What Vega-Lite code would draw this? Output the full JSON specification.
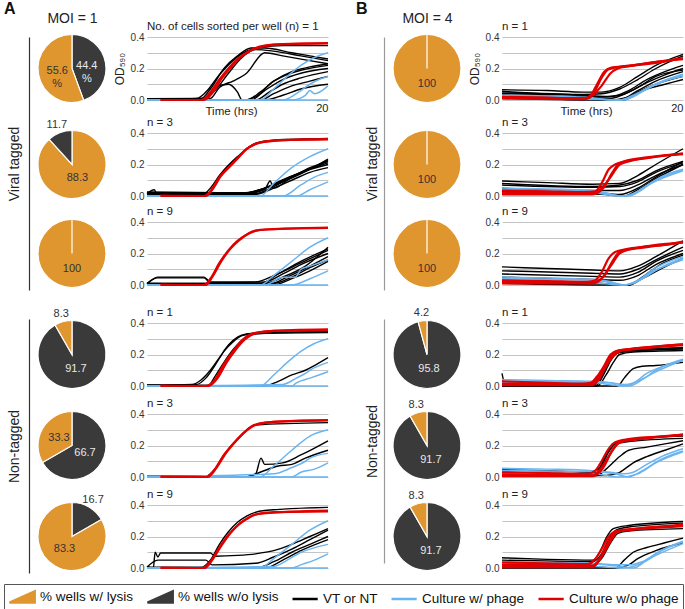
{
"$schema":"https://vega.github.io/schema/vega-lite/v6.json",
"padding":{"left":3,"top":1,"right":0,"bottom":0},
"background":"white",
"config":{"font":"Liberation Sans","view":{"stroke":null}},
"datasets":{
"pA1":[{"s":"N","v":44.4,"o":1,"lab":"44.4\n%"},{"s":"L","v":55.6,"o":2,"lab":"55.6\n%"}],
"pA2":[{"s":"L","v":88.3,"o":1,"lab":"88.3"},{"s":"N","v":11.7,"o":2,"lab":"11.7"}],
"pA3":[{"s":"L","v":100,"o":1,"lab":"100"},{"s":"N","v":0,"o":2,"lab":""}],
"pA4":[{"s":"N","v":91.7,"o":1,"lab":"91.7"},{"s":"L","v":8.3,"o":2,"lab":"8.3"}],
"pA5":[{"s":"N","v":66.7,"o":1,"lab":"66.7"},{"s":"L","v":33.3,"o":2,"lab":"33.3"}],
"pA6":[{"s":"N","v":16.7,"o":1,"lab":"16.7"},{"s":"L","v":83.3,"o":2,"lab":"83.3"}],
"pB1":[{"s":"L","v":100,"o":1,"lab":"100"},{"s":"N","v":0,"o":2,"lab":""}],
"pB2":[{"s":"L","v":100,"o":1,"lab":"100"},{"s":"N","v":0,"o":2,"lab":""}],
"pB3":[{"s":"L","v":100,"o":1,"lab":"100"},{"s":"N","v":0,"o":2,"lab":""}],
"pB4":[{"s":"N","v":95.8,"o":1,"lab":"95.8"},{"s":"L","v":4.2,"o":2,"lab":"4.2"}],
"pB5":[{"s":"N","v":91.7,"o":1,"lab":"91.7"},{"s":"L","v":8.3,"o":2,"lab":"8.3"}],
"pB6":[{"s":"N","v":91.7,"o":1,"lab":"91.7"},{"s":"L","v":8.3,"o":2,"lab":"8.3"}],
"A1":[
{"s":"R","l":1,"t":1.5,"y":0},{"s":"R","l":1,"t":6,"y":0},{"s":"R","l":1,"t":7,"y":0.05},{"s":"R","l":1,"t":8,"y":0.13},{"s":"R","l":1,"t":9,"y":0.2},{"s":"R","l":1,"t":10,"y":0.26},{"s":"R","l":1,"t":11,"y":0.3},{"s":"R","l":1,"t":12,"y":0.33},{"s":"R","l":1,"t":13,"y":0.345},{"s":"R","l":1,"t":15,"y":0.355},{"s":"R","l":1,"t":20,"y":0.36},
{"s":"R","l":2,"t":1.5,"y":0},{"s":"R","l":2,"t":6.3,"y":0},{"s":"R","l":2,"t":7.3,"y":0.05},{"s":"R","l":2,"t":8.3,"y":0.14},{"s":"R","l":2,"t":9.3,"y":0.21},{"s":"R","l":2,"t":10.3,"y":0.27},{"s":"R","l":2,"t":11.3,"y":0.31},{"s":"R","l":2,"t":12.5,"y":0.335},{"s":"R","l":2,"t":14,"y":0.35},{"s":"R","l":2,"t":20,"y":0.362},
{"s":"K","l":1,"t":0,"y":0.005},{"s":"K","l":1,"t":5.5,"y":0.01},{"s":"K","l":1,"t":6.5,"y":0.05},{"s":"K","l":1,"t":8,"y":0.16},{"s":"K","l":1,"t":9.5,"y":0.25},{"s":"K","l":1,"t":11,"y":0.31},{"s":"K","l":1,"t":12.5,"y":0.335},{"s":"K","l":1,"t":15,"y":0.345},{"s":"K","l":1,"t":20,"y":0.345},
{"s":"K","l":2,"t":0,"y":0.003},{"s":"K","l":2,"t":6,"y":0.01},{"s":"K","l":2,"t":7,"y":0.07},{"s":"K","l":2,"t":8.5,"y":0.2},{"s":"K","l":2,"t":10,"y":0.28},{"s":"K","l":2,"t":11.5,"y":0.33},{"s":"K","l":2,"t":13,"y":0.33},{"s":"K","l":2,"t":16,"y":0.3},{"s":"K","l":2,"t":20,"y":0.26},
{"s":"K","l":3,"t":0,"y":0.008},{"s":"K","l":3,"t":6,"y":0.01},{"s":"K","l":3,"t":7.5,"y":0.06},{"s":"K","l":3,"t":9,"y":0.17},{"s":"K","l":3,"t":10.5,"y":0.27},{"s":"K","l":3,"t":12,"y":0.32},{"s":"K","l":3,"t":14,"y":0.31},{"s":"K","l":3,"t":17,"y":0.28},{"s":"K","l":3,"t":20,"y":0.25},
{"s":"K","l":4,"t":0,"y":0.005},{"s":"K","l":4,"t":7,"y":0.01},{"s":"K","l":4,"t":8,"y":0.08},{"s":"K","l":4,"t":9.5,"y":0.12},{"s":"K","l":4,"t":11,"y":0.17},{"s":"K","l":4,"t":13,"y":0.3},{"s":"K","l":4,"t":15,"y":0.28},{"s":"K","l":4,"t":20,"y":0.23},
{"s":"K","l":5,"t":0,"y":0.004},{"s":"K","l":5,"t":6.5,"y":0},{"s":"K","l":5,"t":7.5,"y":0.08},{"s":"K","l":5,"t":9,"y":0.1},{"s":"K","l":5,"t":10,"y":0.05},{"s":"K","l":5,"t":10.5,"y":0},{"s":"K","l":5,"t":12,"y":0.02},{"s":"K","l":5,"t":14,"y":0.12},{"s":"K","l":5,"t":20,"y":0.22},
{"s":"K","l":6,"t":0,"y":0.006},{"s":"K","l":6,"t":11,"y":0},{"s":"K","l":6,"t":12.5,"y":0.05},{"s":"K","l":6,"t":14,"y":0.12},{"s":"K","l":6,"t":16,"y":0.18},{"s":"K","l":6,"t":18,"y":0.21},{"s":"K","l":6,"t":20,"y":0.23},
{"s":"K","l":7,"t":0,"y":0.002},{"s":"K","l":7,"t":11.5,"y":0},{"s":"K","l":7,"t":13,"y":0.06},{"s":"K","l":7,"t":15,"y":0.13},{"s":"K","l":7,"t":17,"y":0.17},{"s":"K","l":7,"t":20,"y":0.2},
{"s":"K","l":8,"t":0,"y":0.004},{"s":"K","l":8,"t":12,"y":0},{"s":"K","l":8,"t":13.5,"y":0.05},{"s":"K","l":8,"t":15,"y":0.1},{"s":"K","l":8,"t":17,"y":0.14},{"s":"K","l":8,"t":20,"y":0.18},
{"s":"K","l":9,"t":0,"y":0.003},{"s":"K","l":9,"t":12.5,"y":0},{"s":"K","l":9,"t":14,"y":0.04},{"s":"K","l":9,"t":16,"y":0.09},{"s":"K","l":9,"t":18,"y":0.12},{"s":"K","l":9,"t":20,"y":0.15},
{"s":"K","l":10,"t":0,"y":0.002},{"s":"K","l":10,"t":13,"y":0},{"s":"K","l":10,"t":15,"y":0.03},{"s":"K","l":10,"t":17,"y":0.07},{"s":"K","l":10,"t":20,"y":0.1},
{"s":"B","l":1,"t":0,"y":0},{"s":"B","l":1,"t":12.5,"y":0},{"s":"B","l":1,"t":14,"y":0.07},{"s":"B","l":1,"t":15.5,"y":0.15},{"s":"B","l":1,"t":17,"y":0.22},{"s":"B","l":1,"t":18.5,"y":0.27},{"s":"B","l":1,"t":20,"y":0.3},
{"s":"B","l":2,"t":0,"y":0},{"s":"B","l":2,"t":15,"y":0},{"s":"B","l":2,"t":16.5,"y":0.04},{"s":"B","l":2,"t":18,"y":0.1},{"s":"B","l":2,"t":19,"y":0.13},{"s":"B","l":2,"t":20,"y":0.15},
{"s":"B","l":3,"t":0,"y":0},{"s":"B","l":3,"t":16,"y":0},{"s":"B","l":3,"t":17.5,"y":0.03},{"s":"B","l":3,"t":18,"y":0.06},{"s":"B","l":3,"t":18.5,"y":0.04},{"s":"B","l":3,"t":20,"y":0.09},
{"s":"B","l":4,"t":0,"y":0},{"s":"B","l":4,"t":20,"y":0}],
"A2":[
{"s":"R","l":1,"t":1.5,"y":0},{"s":"R","l":1,"t":6.3,"y":0},{"s":"R","l":1,"t":7,"y":0.03},{"s":"R","l":1,"t":8,"y":0.12},{"s":"R","l":1,"t":9,"y":0.18},{"s":"R","l":1,"t":10,"y":0.24},{"s":"R","l":1,"t":11,"y":0.3},{"s":"R","l":1,"t":12,"y":0.33},{"s":"R","l":1,"t":13,"y":0.345},{"s":"R","l":1,"t":15,"y":0.355},{"s":"R","l":1,"t":20,"y":0.36},
{"s":"R","l":2,"t":1.5,"y":0.002},{"s":"R","l":2,"t":6.5,"y":0},{"s":"R","l":2,"t":7.2,"y":0.04},{"s":"R","l":2,"t":8.2,"y":0.13},{"s":"R","l":2,"t":9.2,"y":0.19},{"s":"R","l":2,"t":10.2,"y":0.25},{"s":"R","l":2,"t":11.2,"y":0.305},{"s":"R","l":2,"t":12.2,"y":0.335},{"s":"R","l":2,"t":14,"y":0.35},{"s":"R","l":2,"t":20,"y":0.362},
{"s":"K","l":1,"t":0,"y":0.01},{"s":"K","l":1,"t":6.2,"y":0.01},{"s":"K","l":1,"t":7,"y":0.05},{"s":"K","l":1,"t":8,"y":0.13},{"s":"K","l":1,"t":10,"y":0.25},{"s":"K","l":1,"t":12,"y":0.335},{"s":"K","l":1,"t":14,"y":0.355},{"s":"K","l":1,"t":20,"y":0.365},
{"s":"K","l":2,"t":0,"y":0.02},{"s":"K","l":2,"t":11,"y":0.02},{"s":"K","l":2,"t":13,"y":0.05},{"s":"K","l":2,"t":15,"y":0.1},{"s":"K","l":2,"t":17,"y":0.15},{"s":"K","l":2,"t":20,"y":0.22},
{"s":"K","l":3,"t":0,"y":0.015},{"s":"K","l":3,"t":0.8,"y":0.04},{"s":"K","l":3,"t":1.1,"y":0.015},{"s":"K","l":3,"t":11.5,"y":0.02},{"s":"K","l":3,"t":13,"y":0.04},{"s":"K","l":3,"t":13.6,"y":0.095},{"s":"K","l":3,"t":14,"y":0.05},{"s":"K","l":3,"t":16,"y":0.12},{"s":"K","l":3,"t":18,"y":0.17},{"s":"K","l":3,"t":20,"y":0.23},
{"s":"K","l":4,"t":0,"y":0.02},{"s":"K","l":4,"t":11.5,"y":0.02},{"s":"K","l":4,"t":13.5,"y":0.06},{"s":"K","l":4,"t":15.5,"y":0.11},{"s":"K","l":4,"t":17.5,"y":0.16},{"s":"K","l":4,"t":20,"y":0.21},
{"s":"K","l":5,"t":0,"y":0.025},{"s":"K","l":5,"t":10.5,"y":0.02},{"s":"K","l":5,"t":12.5,"y":0.04},{"s":"K","l":5,"t":14.5,"y":0.09},{"s":"K","l":5,"t":17,"y":0.15},{"s":"K","l":5,"t":20,"y":0.2},
{"s":"K","l":6,"t":0,"y":0.01},{"s":"K","l":6,"t":12,"y":0.01},{"s":"K","l":6,"t":14,"y":0.05},{"s":"K","l":6,"t":16,"y":0.1},{"s":"K","l":6,"t":18,"y":0.15},{"s":"K","l":6,"t":20,"y":0.18},
{"s":"K","l":7,"t":0,"y":0.018},{"s":"K","l":7,"t":11,"y":0.02},{"s":"K","l":7,"t":13,"y":0.05},{"s":"K","l":7,"t":15,"y":0.09},{"s":"K","l":7,"t":17,"y":0.14},{"s":"K","l":7,"t":20,"y":0.235},
{"s":"K","l":8,"t":0,"y":0.012},{"s":"K","l":8,"t":12,"y":0.015},{"s":"K","l":8,"t":14,"y":0.06},{"s":"K","l":8,"t":16,"y":0.12},{"s":"K","l":8,"t":18,"y":0.18},{"s":"K","l":8,"t":20,"y":0.22},
{"s":"B","l":1,"t":0,"y":0},{"s":"B","l":1,"t":12.5,"y":0},{"s":"B","l":1,"t":14,"y":0.08},{"s":"B","l":1,"t":16,"y":0.18},{"s":"B","l":1,"t":18,"y":0.25},{"s":"B","l":1,"t":20,"y":0.3},
{"s":"B","l":2,"t":0,"y":0},{"s":"B","l":2,"t":15,"y":0},{"s":"B","l":2,"t":17,"y":0.07},{"s":"B","l":2,"t":18.5,"y":0.12},{"s":"B","l":2,"t":20,"y":0.15},
{"s":"B","l":3,"t":0,"y":0},{"s":"B","l":3,"t":16.5,"y":0},{"s":"B","l":3,"t":18,"y":0.04},{"s":"B","l":3,"t":20,"y":0.09},
{"s":"B","l":4,"t":0,"y":0},{"s":"B","l":4,"t":20,"y":0}],
"A3":[
{"s":"R","l":1,"t":1.5,"y":0},{"s":"R","l":1,"t":6.3,"y":0},{"s":"R","l":1,"t":7,"y":0.04},{"s":"R","l":1,"t":8,"y":0.14},{"s":"R","l":1,"t":9,"y":0.22},{"s":"R","l":1,"t":10,"y":0.28},{"s":"R","l":1,"t":11,"y":0.32},{"s":"R","l":1,"t":12,"y":0.345},{"s":"R","l":1,"t":14,"y":0.355},{"s":"R","l":1,"t":20,"y":0.365},
{"s":"R","l":2,"t":1.5,"y":0.002},{"s":"R","l":2,"t":6.5,"y":0},{"s":"R","l":2,"t":7.2,"y":0.05},{"s":"R","l":2,"t":8.2,"y":0.15},{"s":"R","l":2,"t":9.2,"y":0.23},{"s":"R","l":2,"t":10.2,"y":0.285},{"s":"R","l":2,"t":11.2,"y":0.325},{"s":"R","l":2,"t":12.5,"y":0.35},{"s":"R","l":2,"t":20,"y":0.362},
{"s":"K","l":1,"t":0,"y":0.01},{"s":"K","l":1,"t":0.8,"y":0.04},{"s":"K","l":1,"t":1.2,"y":0.05},{"s":"K","l":1,"t":6.3,"y":0.05},{"s":"K","l":1,"t":7,"y":0.02},{"s":"K","l":1,"t":12,"y":0.02},{"s":"K","l":1,"t":14,"y":0.06},{"s":"K","l":1,"t":17,"y":0.14},{"s":"K","l":1,"t":20,"y":0.22},
{"s":"K","l":2,"t":0,"y":0.005},{"s":"K","l":2,"t":1,"y":0.045},{"s":"K","l":2,"t":6.3,"y":0.045},{"s":"K","l":2,"t":7,"y":0.015},{"s":"K","l":2,"t":13,"y":0.02},{"s":"K","l":2,"t":15,"y":0.07},{"s":"K","l":2,"t":17,"y":0.13},{"s":"K","l":2,"t":20,"y":0.2},
{"s":"K","l":3,"t":0,"y":0.01},{"s":"K","l":3,"t":13,"y":0.01},{"s":"K","l":3,"t":15,"y":0.05},{"s":"K","l":3,"t":17.5,"y":0.12},{"s":"K","l":3,"t":20,"y":0.24},
{"s":"K","l":4,"t":0,"y":0.005},{"s":"K","l":4,"t":13.5,"y":0.005},{"s":"K","l":4,"t":15.5,"y":0.05},{"s":"K","l":4,"t":18,"y":0.12},{"s":"K","l":4,"t":20,"y":0.18},
{"s":"K","l":5,"t":0,"y":0.01},{"s":"K","l":5,"t":14,"y":0.01},{"s":"K","l":5,"t":16,"y":0.05},{"s":"K","l":5,"t":18,"y":0.11},{"s":"K","l":5,"t":20,"y":0.16},
{"s":"K","l":6,"t":0,"y":0.005},{"s":"K","l":6,"t":12.5,"y":0.01},{"s":"K","l":6,"t":14.5,"y":0.07},{"s":"K","l":6,"t":17,"y":0.15},{"s":"K","l":6,"t":20,"y":0.23},
{"s":"K","l":7,"t":0,"y":0.01},{"s":"K","l":7,"t":14,"y":0},{"s":"K","l":7,"t":16,"y":0.04},{"s":"K","l":7,"t":18,"y":0.09},{"s":"K","l":7,"t":20,"y":0.15},
{"s":"B","l":1,"t":0,"y":0},{"s":"B","l":1,"t":12.5,"y":0},{"s":"B","l":1,"t":14,"y":0.06},{"s":"B","l":1,"t":16,"y":0.15},{"s":"B","l":1,"t":18,"y":0.24},{"s":"B","l":1,"t":20,"y":0.3},
{"s":"B","l":2,"t":0,"y":0},{"s":"B","l":2,"t":13,"y":0},{"s":"B","l":2,"t":15,"y":0.05},{"s":"B","l":2,"t":16.4,"y":0.05},{"s":"B","l":2,"t":17,"y":0.1},{"s":"B","l":2,"t":18,"y":0.12},{"s":"B","l":2,"t":20,"y":0.16},
{"s":"B","l":3,"t":0,"y":0},{"s":"B","l":3,"t":16,"y":0},{"s":"B","l":3,"t":18,"y":0.04},{"s":"B","l":3,"t":20,"y":0.09},
{"s":"B","l":4,"t":0,"y":0},{"s":"B","l":4,"t":20,"y":0}],
"A4":[
{"s":"R","l":1,"t":1.5,"y":0},{"s":"R","l":1,"t":6.5,"y":0},{"s":"R","l":1,"t":7.5,"y":0.04},{"s":"R","l":1,"t":8.5,"y":0.14},{"s":"R","l":1,"t":9.5,"y":0.22},{"s":"R","l":1,"t":10.5,"y":0.29},{"s":"R","l":1,"t":11.5,"y":0.33},{"s":"R","l":1,"t":13,"y":0.345},{"s":"R","l":1,"t":16,"y":0.355},{"s":"R","l":1,"t":20,"y":0.36},
{"s":"R","l":2,"t":1.5,"y":0.002},{"s":"R","l":2,"t":6.8,"y":0},{"s":"R","l":2,"t":7.8,"y":0.05},{"s":"R","l":2,"t":8.8,"y":0.15},{"s":"R","l":2,"t":9.8,"y":0.23},{"s":"R","l":2,"t":10.8,"y":0.295},{"s":"R","l":2,"t":12,"y":0.335},{"s":"R","l":2,"t":14,"y":0.35},{"s":"R","l":2,"t":20,"y":0.355},
{"s":"K","l":1,"t":0,"y":0.005},{"s":"K","l":1,"t":5,"y":0.01},{"s":"K","l":1,"t":6,"y":0.04},{"s":"K","l":1,"t":7,"y":0.1},{"s":"K","l":1,"t":8,"y":0.18},{"s":"K","l":1,"t":9,"y":0.26},{"s":"K","l":1,"t":10,"y":0.31},{"s":"K","l":1,"t":11,"y":0.33},{"s":"K","l":1,"t":13,"y":0.34},{"s":"K","l":1,"t":20,"y":0.345},
{"s":"K","l":2,"t":0,"y":0.005},{"s":"K","l":2,"t":5.5,"y":0.01},{"s":"K","l":2,"t":6.5,"y":0.05},{"s":"K","l":2,"t":7.5,"y":0.13},{"s":"K","l":2,"t":8.5,"y":0.22},{"s":"K","l":2,"t":9.5,"y":0.28},{"s":"K","l":2,"t":10.5,"y":0.32},{"s":"K","l":2,"t":12,"y":0.335},{"s":"K","l":2,"t":20,"y":0.34},
{"s":"K","l":3,"t":0,"y":0.005},{"s":"K","l":3,"t":6.8,"y":0.005},{"s":"K","l":3,"t":7.5,"y":0.06},{"s":"K","l":3,"t":8.5,"y":0.15},{"s":"K","l":3,"t":9.5,"y":0.23},{"s":"K","l":3,"t":10.5,"y":0.29},{"s":"K","l":3,"t":12,"y":0.33},{"s":"K","l":3,"t":20,"y":0.345},
{"s":"K","l":4,"t":0,"y":0.003},{"s":"K","l":4,"t":13,"y":0},{"s":"K","l":4,"t":14.5,"y":0.03},{"s":"K","l":4,"t":16,"y":0.07},{"s":"K","l":4,"t":17.5,"y":0.1},{"s":"K","l":4,"t":18.5,"y":0.13},{"s":"K","l":4,"t":20,"y":0.18},
{"s":"B","l":1,"t":0,"y":0},{"s":"B","l":1,"t":12.5,"y":0},{"s":"B","l":1,"t":14,"y":0.07},{"s":"B","l":1,"t":15.5,"y":0.15},{"s":"B","l":1,"t":17,"y":0.22},{"s":"B","l":1,"t":18.5,"y":0.27},{"s":"B","l":1,"t":20,"y":0.3},
{"s":"B","l":2,"t":0,"y":0},{"s":"B","l":2,"t":15,"y":0.01},{"s":"B","l":2,"t":16.5,"y":0.05},{"s":"B","l":2,"t":17.5,"y":0.08},{"s":"B","l":2,"t":18,"y":0.1},{"s":"B","l":2,"t":20,"y":0.15},
{"s":"B","l":3,"t":0,"y":0},{"s":"B","l":3,"t":16,"y":0},{"s":"B","l":3,"t":16.5,"y":0.02},{"s":"B","l":3,"t":18,"y":0.05},{"s":"B","l":3,"t":20,"y":0.09},
{"s":"B","l":4,"t":0,"y":0},{"s":"B","l":4,"t":20,"y":0}],
"A5":[
{"s":"R","l":1,"t":1.5,"y":0},{"s":"R","l":1,"t":6.5,"y":0},{"s":"R","l":1,"t":7.5,"y":0.05},{"s":"R","l":1,"t":8.5,"y":0.14},{"s":"R","l":1,"t":9.5,"y":0.21},{"s":"R","l":1,"t":10.5,"y":0.27},{"s":"R","l":1,"t":11.5,"y":0.32},{"s":"R","l":1,"t":13,"y":0.345},{"s":"R","l":1,"t":16,"y":0.355},{"s":"R","l":1,"t":20,"y":0.36},
{"s":"R","l":2,"t":1.5,"y":0.002},{"s":"R","l":2,"t":6.7,"y":0},{"s":"R","l":2,"t":7.7,"y":0.06},{"s":"R","l":2,"t":8.7,"y":0.15},{"s":"R","l":2,"t":9.7,"y":0.22},{"s":"R","l":2,"t":10.7,"y":0.28},{"s":"R","l":2,"t":12,"y":0.33},{"s":"R","l":2,"t":14,"y":0.35},{"s":"R","l":2,"t":20,"y":0.362},
{"s":"K","l":1,"t":0,"y":0.005},{"s":"K","l":1,"t":6.5,"y":0.005},{"s":"K","l":1,"t":7.5,"y":0.05},{"s":"K","l":1,"t":8.5,"y":0.14},{"s":"K","l":1,"t":9.5,"y":0.21},{"s":"K","l":1,"t":10.5,"y":0.27},{"s":"K","l":1,"t":12,"y":0.33},{"s":"K","l":1,"t":20,"y":0.345},
{"s":"K","l":2,"t":0,"y":0},{"s":"K","l":2,"t":10.5,"y":0},{"s":"K","l":2,"t":12,"y":0.02},{"s":"K","l":2,"t":12.6,"y":0.12},{"s":"K","l":2,"t":13,"y":0.08},{"s":"K","l":2,"t":15,"y":0.09},{"s":"K","l":2,"t":17,"y":0.14},{"s":"K","l":2,"t":20,"y":0.23},
{"s":"K","l":3,"t":0,"y":0},{"s":"K","l":3,"t":11,"y":0},{"s":"K","l":3,"t":12.5,"y":0.03},{"s":"K","l":3,"t":14.5,"y":0.07},{"s":"K","l":3,"t":16,"y":0.08},{"s":"K","l":3,"t":17.5,"y":0.12},{"s":"K","l":3,"t":20,"y":0.17},
{"s":"B","l":1,"t":0,"y":0},{"s":"B","l":1,"t":12.5,"y":0},{"s":"B","l":1,"t":14,"y":0.07},{"s":"B","l":1,"t":16,"y":0.17},{"s":"B","l":1,"t":18,"y":0.26},{"s":"B","l":1,"t":20,"y":0.3},
{"s":"B","l":2,"t":0,"y":0},{"s":"B","l":2,"t":14,"y":0.02},{"s":"B","l":2,"t":16,"y":0.06},{"s":"B","l":2,"t":17.5,"y":0.1},{"s":"B","l":2,"t":18,"y":0.12},{"s":"B","l":2,"t":20,"y":0.15},
{"s":"B","l":3,"t":0,"y":0},{"s":"B","l":3,"t":16,"y":0},{"s":"B","l":3,"t":17,"y":0.03},{"s":"B","l":3,"t":18.5,"y":0.05},{"s":"B","l":3,"t":20,"y":0.09},
{"s":"B","l":4,"t":0,"y":0},{"s":"B","l":4,"t":20,"y":0}],
"A6":[
{"s":"R","l":1,"t":1.5,"y":0},{"s":"R","l":1,"t":6.2,"y":0},{"s":"R","l":1,"t":7,"y":0.04},{"s":"R","l":1,"t":8,"y":0.13},{"s":"R","l":1,"t":9,"y":0.21},{"s":"R","l":1,"t":10,"y":0.27},{"s":"R","l":1,"t":11,"y":0.31},{"s":"R","l":1,"t":12,"y":0.34},{"s":"R","l":1,"t":14,"y":0.355},{"s":"R","l":1,"t":20,"y":0.36},
{"s":"R","l":2,"t":1.5,"y":0.002},{"s":"R","l":2,"t":6.4,"y":0},{"s":"R","l":2,"t":7.2,"y":0.05},{"s":"R","l":2,"t":8.2,"y":0.14},{"s":"R","l":2,"t":9.2,"y":0.22},{"s":"R","l":2,"t":10.2,"y":0.28},{"s":"R","l":2,"t":11.2,"y":0.32},{"s":"R","l":2,"t":12.5,"y":0.345},{"s":"R","l":2,"t":20,"y":0.365},
{"s":"K","l":1,"t":0,"y":0.005},{"s":"K","l":1,"t":6,"y":0.005},{"s":"K","l":1,"t":7,"y":0.05},{"s":"K","l":1,"t":8,"y":0.15},{"s":"K","l":1,"t":9,"y":0.23},{"s":"K","l":1,"t":10,"y":0.29},{"s":"K","l":1,"t":11,"y":0.33},{"s":"K","l":1,"t":13,"y":0.365},{"s":"K","l":1,"t":20,"y":0.385},
{"s":"K","l":2,"t":0,"y":0.01},{"s":"K","l":2,"t":0.7,"y":0},{"s":"K","l":2,"t":0.9,"y":0.1},{"s":"K","l":2,"t":1.2,"y":0.07},{"s":"K","l":2,"t":1.5,"y":0.095},{"s":"K","l":2,"t":7,"y":0.095},{"s":"K","l":2,"t":7.5,"y":0.075},{"s":"K","l":2,"t":10,"y":0.08},{"s":"K","l":2,"t":12,"y":0.09},{"s":"K","l":2,"t":14,"y":0.11},{"s":"K","l":2,"t":16,"y":0.15},{"s":"K","l":2,"t":18,"y":0.2},{"s":"K","l":2,"t":20,"y":0.25},
{"s":"K","l":3,"t":0,"y":0.005},{"s":"K","l":3,"t":1.2,"y":0.05},{"s":"K","l":3,"t":6.5,"y":0.05},{"s":"K","l":3,"t":7.2,"y":0.02},{"s":"K","l":3,"t":12,"y":0.03},{"s":"K","l":3,"t":14,"y":0.07},{"s":"K","l":3,"t":16,"y":0.12},{"s":"K","l":3,"t":18,"y":0.18},{"s":"K","l":3,"t":20,"y":0.24},
{"s":"K","l":4,"t":0,"y":0},{"s":"K","l":4,"t":12,"y":0},{"s":"K","l":4,"t":14,"y":0.04},{"s":"K","l":4,"t":16,"y":0.1},{"s":"K","l":4,"t":18,"y":0.15},{"s":"K","l":4,"t":20,"y":0.2},
{"s":"K","l":5,"t":0,"y":0},{"s":"K","l":5,"t":13,"y":0},{"s":"K","l":5,"t":15,"y":0.05},{"s":"K","l":5,"t":17,"y":0.11},{"s":"K","l":5,"t":20,"y":0.18},
{"s":"B","l":1,"t":0,"y":0},{"s":"B","l":1,"t":12.5,"y":0},{"s":"B","l":1,"t":14,"y":0.06},{"s":"B","l":1,"t":16,"y":0.15},{"s":"B","l":1,"t":18,"y":0.24},{"s":"B","l":1,"t":20,"y":0.3},
{"s":"B","l":2,"t":0,"y":0},{"s":"B","l":2,"t":14,"y":0.01},{"s":"B","l":2,"t":15.5,"y":0.05},{"s":"B","l":2,"t":17,"y":0.1},{"s":"B","l":2,"t":18,"y":0.12},{"s":"B","l":2,"t":20,"y":0.15},
{"s":"B","l":3,"t":0,"y":0},{"s":"B","l":3,"t":16,"y":0},{"s":"B","l":3,"t":17,"y":0.02},{"s":"B","l":3,"t":18.5,"y":0.05},{"s":"B","l":3,"t":20,"y":0.09},
{"s":"B","l":4,"t":0,"y":0},{"s":"B","l":4,"t":20,"y":0}],
"B1":[
{"s":"R","l":1,"t":0,"y":0.02},{"s":"R","l":1,"t":5,"y":0.015},{"s":"R","l":1,"t":9,"y":0.01},{"s":"R","l":1,"t":9.8,"y":0.03},{"s":"R","l":1,"t":10.5,"y":0.1},{"s":"R","l":1,"t":11.3,"y":0.18},{"s":"R","l":1,"t":12,"y":0.205},{"s":"R","l":1,"t":14,"y":0.215},{"s":"R","l":1,"t":17,"y":0.235},{"s":"R","l":1,"t":20,"y":0.265},
{"s":"R","l":2,"t":0,"y":0.01},{"s":"R","l":2,"t":9,"y":0.005},{"s":"R","l":2,"t":10,"y":0.03},{"s":"R","l":2,"t":11,"y":0.09},{"s":"R","l":2,"t":12,"y":0.17},{"s":"R","l":2,"t":12.8,"y":0.2},{"s":"R","l":2,"t":14,"y":0.215},{"s":"R","l":2,"t":20,"y":0.26},
{"s":"R","l":3,"t":0,"y":0.015},{"s":"R","l":3,"t":9.5,"y":0.01},{"s":"R","l":3,"t":10.3,"y":0.06},{"s":"R","l":3,"t":11,"y":0.14},{"s":"R","l":3,"t":11.8,"y":0.195},{"s":"R","l":3,"t":15,"y":0.225},{"s":"R","l":3,"t":20,"y":0.265},
{"s":"K","l":1,"t":0,"y":0.065},{"s":"K","l":1,"t":5,"y":0.06},{"s":"K","l":1,"t":9,"y":0.05},{"s":"K","l":1,"t":11,"y":0.05},{"s":"K","l":1,"t":13,"y":0.08},{"s":"K","l":1,"t":15,"y":0.15},{"s":"K","l":1,"t":17,"y":0.22},{"s":"K","l":1,"t":20,"y":0.29},
{"s":"K","l":2,"t":0,"y":0.055},{"s":"K","l":2,"t":9,"y":0.035},{"s":"K","l":2,"t":11,"y":0.04},{"s":"K","l":2,"t":13,"y":0.07},{"s":"K","l":2,"t":15,"y":0.13},{"s":"K","l":2,"t":17,"y":0.2},{"s":"K","l":2,"t":20,"y":0.28},
{"s":"K","l":3,"t":0,"y":0.04},{"s":"K","l":3,"t":9,"y":0.03},{"s":"K","l":3,"t":12,"y":0.02},{"s":"K","l":3,"t":14,"y":0.06},{"s":"K","l":3,"t":16,"y":0.13},{"s":"K","l":3,"t":18,"y":0.18},{"s":"K","l":3,"t":20,"y":0.22},
{"s":"K","l":4,"t":0,"y":0.03},{"s":"K","l":4,"t":9,"y":0.02},{"s":"K","l":4,"t":12,"y":0.01},{"s":"K","l":4,"t":14,"y":0.05},{"s":"K","l":4,"t":16,"y":0.11},{"s":"K","l":4,"t":18,"y":0.16},{"s":"K","l":4,"t":20,"y":0.2},
{"s":"K","l":5,"t":0,"y":0.02},{"s":"K","l":5,"t":10,"y":0.01},{"s":"K","l":5,"t":13,"y":0},{"s":"K","l":5,"t":15,"y":0.06},{"s":"K","l":5,"t":17,"y":0.12},{"s":"K","l":5,"t":20,"y":0.18},
{"s":"K","l":6,"t":0,"y":0.01},{"s":"K","l":6,"t":11,"y":0},{"s":"K","l":6,"t":13.5,"y":0},{"s":"K","l":6,"t":15,"y":0.05},{"s":"K","l":6,"t":17,"y":0.1},{"s":"K","l":6,"t":20,"y":0.15},
{"s":"K","l":7,"t":0,"y":0.045},{"s":"K","l":7,"t":9,"y":0.03},{"s":"K","l":7,"t":10.5,"y":0.02},{"s":"K","l":7,"t":13,"y":0.03},{"s":"K","l":7,"t":15,"y":0.08},{"s":"K","l":7,"t":17,"y":0.15},{"s":"K","l":7,"t":20,"y":0.19},
{"s":"K","l":8,"t":0,"y":0.015},{"s":"K","l":8,"t":12,"y":0},{"s":"K","l":8,"t":14,"y":0.02},{"s":"K","l":8,"t":16,"y":0.07},{"s":"K","l":8,"t":18,"y":0.1},{"s":"K","l":8,"t":20,"y":0.13},
{"s":"B","l":1,"t":0,"y":0.03},{"s":"B","l":1,"t":8,"y":0.02},{"s":"B","l":1,"t":10,"y":0.015},{"s":"B","l":1,"t":12,"y":0},{"s":"B","l":1,"t":13.5,"y":0},{"s":"B","l":1,"t":15,"y":0.04},{"s":"B","l":1,"t":17,"y":0.1},{"s":"B","l":1,"t":20,"y":0.16},
{"s":"B","l":2,"t":0,"y":0.02},{"s":"B","l":2,"t":10,"y":0.01},{"s":"B","l":2,"t":13,"y":0},{"s":"B","l":2,"t":14.5,"y":0.02},{"s":"B","l":2,"t":16,"y":0.07},{"s":"B","l":2,"t":18,"y":0.12},{"s":"B","l":2,"t":20,"y":0.15},
{"s":"B","l":3,"t":0,"y":0.01},{"s":"B","l":3,"t":9,"y":0.005},{"s":"B","l":3,"t":13,"y":0},{"s":"B","l":3,"t":14.5,"y":0.03},{"s":"B","l":3,"t":16.5,"y":0.09},{"s":"B","l":3,"t":20,"y":0.165}],
"B2":[
{"s":"R","l":1,"t":0,"y":0.035},{"s":"R","l":1,"t":5,"y":0.03},{"s":"R","l":1,"t":9,"y":0.025},{"s":"R","l":1,"t":10.3,"y":0.03},{"s":"R","l":1,"t":11,"y":0.08},{"s":"R","l":1,"t":11.8,"y":0.17},{"s":"R","l":1,"t":12.5,"y":0.2},{"s":"R","l":1,"t":13.5,"y":0.22},{"s":"R","l":1,"t":16,"y":0.245},{"s":"R","l":1,"t":20,"y":0.27},
{"s":"R","l":2,"t":0,"y":0.02},{"s":"R","l":2,"t":10,"y":0.02},{"s":"R","l":2,"t":11,"y":0.05},{"s":"R","l":2,"t":12,"y":0.12},{"s":"R","l":2,"t":13,"y":0.2},{"s":"R","l":2,"t":14,"y":0.22},{"s":"R","l":2,"t":20,"y":0.265},
{"s":"R","l":3,"t":0,"y":0.01},{"s":"R","l":3,"t":10,"y":0.01},{"s":"R","l":3,"t":11.2,"y":0.05},{"s":"R","l":3,"t":12.2,"y":0.15},{"s":"R","l":3,"t":13,"y":0.21},{"s":"R","l":3,"t":16,"y":0.24},{"s":"R","l":3,"t":20,"y":0.27},
{"s":"K","l":1,"t":0,"y":0.095},{"s":"K","l":1,"t":5,"y":0.085},{"s":"K","l":1,"t":10,"y":0.075},{"s":"K","l":1,"t":13,"y":0.08},{"s":"K","l":1,"t":15,"y":0.13},{"s":"K","l":1,"t":17,"y":0.2},{"s":"K","l":1,"t":20,"y":0.3},
{"s":"K","l":2,"t":0,"y":0.08},{"s":"K","l":2,"t":10,"y":0.06},{"s":"K","l":2,"t":13,"y":0.07},{"s":"K","l":2,"t":15,"y":0.1},{"s":"K","l":2,"t":17,"y":0.16},{"s":"K","l":2,"t":20,"y":0.22},
{"s":"K","l":3,"t":0,"y":0.07},{"s":"K","l":3,"t":10,"y":0.055},{"s":"K","l":3,"t":13,"y":0.06},{"s":"K","l":3,"t":15,"y":0.09},{"s":"K","l":3,"t":17,"y":0.15},{"s":"K","l":3,"t":20,"y":0.21},
{"s":"K","l":4,"t":0,"y":0.05},{"s":"K","l":4,"t":10,"y":0.035},{"s":"K","l":4,"t":13,"y":0.035},{"s":"K","l":4,"t":15,"y":0.07},{"s":"K","l":4,"t":17,"y":0.13},{"s":"K","l":4,"t":20,"y":0.2},
{"s":"K","l":5,"t":0,"y":0.03},{"s":"K","l":5,"t":10,"y":0.02},{"s":"K","l":5,"t":13,"y":0.01},{"s":"K","l":5,"t":15,"y":0.05},{"s":"K","l":5,"t":17,"y":0.12},{"s":"K","l":5,"t":20,"y":0.22},
{"s":"K","l":6,"t":0,"y":0.02},{"s":"K","l":6,"t":11,"y":0.01},{"s":"K","l":6,"t":13.5,"y":0},{"s":"K","l":6,"t":15,"y":0.04},{"s":"K","l":6,"t":17,"y":0.11},{"s":"K","l":6,"t":20,"y":0.2},
{"s":"B","l":1,"t":0,"y":0.05},{"s":"B","l":1,"t":8,"y":0.04},{"s":"B","l":1,"t":10,"y":0.035},{"s":"B","l":1,"t":11.5,"y":0.02},{"s":"B","l":1,"t":13,"y":0},{"s":"B","l":1,"t":14,"y":0},{"s":"B","l":1,"t":15.5,"y":0.05},{"s":"B","l":1,"t":17.5,"y":0.12},{"s":"B","l":1,"t":20,"y":0.17},
{"s":"B","l":2,"t":0,"y":0.04},{"s":"B","l":2,"t":10,"y":0.03},{"s":"B","l":2,"t":12,"y":0.01},{"s":"B","l":2,"t":13.5,"y":0},{"s":"B","l":2,"t":15,"y":0.03},{"s":"B","l":2,"t":17,"y":0.1},{"s":"B","l":2,"t":20,"y":0.165},
{"s":"B","l":3,"t":0,"y":0.02},{"s":"B","l":3,"t":10,"y":0.02},{"s":"B","l":3,"t":13,"y":0},{"s":"B","l":3,"t":14.5,"y":0.01},{"s":"B","l":3,"t":16.5,"y":0.08},{"s":"B","l":3,"t":20,"y":0.16}],
"B3":[
{"s":"R","l":1,"t":0,"y":0.03},{"s":"R","l":1,"t":5,"y":0.025},{"s":"R","l":1,"t":9.5,"y":0.02},{"s":"R","l":1,"t":10.3,"y":0.03},{"s":"R","l":1,"t":11,"y":0.08},{"s":"R","l":1,"t":11.8,"y":0.17},{"s":"R","l":1,"t":12.5,"y":0.21},{"s":"R","l":1,"t":13.5,"y":0.225},{"s":"R","l":1,"t":16,"y":0.245},{"s":"R","l":1,"t":18,"y":0.255},{"s":"R","l":1,"t":20,"y":0.275},
{"s":"R","l":2,"t":0,"y":0.02},{"s":"R","l":2,"t":10,"y":0.015},{"s":"R","l":2,"t":11,"y":0.04},{"s":"R","l":2,"t":12,"y":0.12},{"s":"R","l":2,"t":13,"y":0.2},{"s":"R","l":2,"t":14,"y":0.225},{"s":"R","l":2,"t":20,"y":0.27},
{"s":"R","l":3,"t":0,"y":0.01},{"s":"R","l":3,"t":10,"y":0.01},{"s":"R","l":3,"t":11.3,"y":0.06},{"s":"R","l":3,"t":12.3,"y":0.16},{"s":"R","l":3,"t":13.1,"y":0.215},{"s":"R","l":3,"t":16,"y":0.24},{"s":"R","l":3,"t":20,"y":0.27},
{"s":"K","l":1,"t":0,"y":0.115},{"s":"K","l":1,"t":5,"y":0.105},{"s":"K","l":1,"t":10,"y":0.095},{"s":"K","l":1,"t":13,"y":0.09},{"s":"K","l":1,"t":15,"y":0.12},{"s":"K","l":1,"t":17,"y":0.18},{"s":"K","l":1,"t":20,"y":0.28},
{"s":"K","l":2,"t":0,"y":0.09},{"s":"K","l":2,"t":10,"y":0.075},{"s":"K","l":2,"t":13,"y":0.07},{"s":"K","l":2,"t":15,"y":0.1},{"s":"K","l":2,"t":17,"y":0.16},{"s":"K","l":2,"t":20,"y":0.24},
{"s":"K","l":3,"t":0,"y":0.07},{"s":"K","l":3,"t":10,"y":0.055},{"s":"K","l":3,"t":13,"y":0.05},{"s":"K","l":3,"t":15,"y":0.08},{"s":"K","l":3,"t":17,"y":0.15},{"s":"K","l":3,"t":20,"y":0.22},
{"s":"K","l":4,"t":0,"y":0.05},{"s":"K","l":4,"t":10,"y":0.035},{"s":"K","l":4,"t":13,"y":0.03},{"s":"K","l":4,"t":15,"y":0.06},{"s":"K","l":4,"t":17,"y":0.13},{"s":"K","l":4,"t":20,"y":0.2},
{"s":"K","l":5,"t":0,"y":0.03},{"s":"K","l":5,"t":10,"y":0.015},{"s":"K","l":5,"t":12,"y":0.005},{"s":"K","l":5,"t":14,"y":0},{"s":"K","l":5,"t":15.5,"y":0.05},{"s":"K","l":5,"t":17.5,"y":0.13},{"s":"K","l":5,"t":20,"y":0.19},
{"s":"K","l":6,"t":0,"y":0.01},{"s":"K","l":6,"t":11,"y":0},{"s":"K","l":6,"t":14,"y":0},{"s":"K","l":6,"t":15.5,"y":0.04},{"s":"K","l":6,"t":17.5,"y":0.1},{"s":"K","l":6,"t":20,"y":0.17},
{"s":"B","l":1,"t":0,"y":0.05},{"s":"B","l":1,"t":8,"y":0.04},{"s":"B","l":1,"t":10.5,"y":0.035},{"s":"B","l":1,"t":12,"y":0.02},{"s":"B","l":1,"t":13.5,"y":0},{"s":"B","l":1,"t":15,"y":0.03},{"s":"B","l":1,"t":17,"y":0.11},{"s":"B","l":1,"t":20,"y":0.18},
{"s":"B","l":2,"t":0,"y":0.04},{"s":"B","l":2,"t":10,"y":0.03},{"s":"B","l":2,"t":12,"y":0.015},{"s":"B","l":2,"t":13.5,"y":0},{"s":"B","l":2,"t":15.5,"y":0.04},{"s":"B","l":2,"t":17.5,"y":0.11},{"s":"B","l":2,"t":20,"y":0.17},
{"s":"B","l":3,"t":0,"y":0.02},{"s":"B","l":3,"t":10,"y":0.015},{"s":"B","l":3,"t":13,"y":0},{"s":"B","l":3,"t":14.5,"y":0.01},{"s":"B","l":3,"t":16.5,"y":0.08},{"s":"B","l":3,"t":20,"y":0.16}],
"B4":[
{"s":"R","l":1,"t":0,"y":0.03},{"s":"R","l":1,"t":5,"y":0.02},{"s":"R","l":1,"t":9,"y":0.015},{"s":"R","l":1,"t":9.8,"y":0.02},{"s":"R","l":1,"t":10.5,"y":0.06},{"s":"R","l":1,"t":11.2,"y":0.12},{"s":"R","l":1,"t":12,"y":0.2},{"s":"R","l":1,"t":12.8,"y":0.225},{"s":"R","l":1,"t":15,"y":0.24},{"s":"R","l":1,"t":20,"y":0.265},
{"s":"R","l":2,"t":0,"y":0.015},{"s":"R","l":2,"t":9,"y":0.01},{"s":"R","l":2,"t":10,"y":0.02},{"s":"R","l":2,"t":11,"y":0.08},{"s":"R","l":2,"t":12,"y":0.17},{"s":"R","l":2,"t":13,"y":0.22},{"s":"R","l":2,"t":15,"y":0.235},{"s":"R","l":2,"t":20,"y":0.26},
{"s":"R","l":3,"t":0,"y":0.005},{"s":"R","l":3,"t":10,"y":0.005},{"s":"R","l":3,"t":10.8,"y":0.05},{"s":"R","l":3,"t":11.7,"y":0.15},{"s":"R","l":3,"t":12.6,"y":0.22},{"s":"R","l":3,"t":15,"y":0.24},{"s":"R","l":3,"t":20,"y":0.265},
{"s":"K","l":1,"t":0,"y":0.08},{"s":"K","l":1,"t":0.3,"y":0.02},{"s":"K","l":1,"t":5,"y":0.01},{"s":"K","l":1,"t":10,"y":0.01},{"s":"K","l":1,"t":10.7,"y":0.05},{"s":"K","l":1,"t":11.5,"y":0.15},{"s":"K","l":1,"t":12.3,"y":0.21},{"s":"K","l":1,"t":13,"y":0.225},{"s":"K","l":1,"t":16,"y":0.235},{"s":"K","l":1,"t":20,"y":0.245},
{"s":"K","l":2,"t":0,"y":0.01},{"s":"K","l":2,"t":10,"y":0},{"s":"K","l":2,"t":11,"y":0.06},{"s":"K","l":2,"t":11.8,"y":0.15},{"s":"K","l":2,"t":12.5,"y":0.2},{"s":"K","l":2,"t":13.5,"y":0.22},{"s":"K","l":2,"t":20,"y":0.24},
{"s":"K","l":3,"t":0,"y":0.005},{"s":"K","l":3,"t":10.3,"y":0},{"s":"K","l":3,"t":11.3,"y":0.08},{"s":"K","l":3,"t":12,"y":0.16},{"s":"K","l":3,"t":12.8,"y":0.21},{"s":"K","l":3,"t":14,"y":0.22},{"s":"K","l":3,"t":20,"y":0.235},
{"s":"K","l":4,"t":0,"y":0},{"s":"K","l":4,"t":10.5,"y":0},{"s":"K","l":4,"t":11.5,"y":0.07},{"s":"K","l":4,"t":12.3,"y":0.15},{"s":"K","l":4,"t":13,"y":0.2},{"s":"K","l":4,"t":14.5,"y":0.215},{"s":"K","l":4,"t":20,"y":0.225},
{"s":"K","l":5,"t":0,"y":0},{"s":"K","l":5,"t":12.8,"y":0},{"s":"K","l":5,"t":13.5,"y":0.05},{"s":"K","l":5,"t":14.5,"y":0.11},{"s":"K","l":5,"t":15.5,"y":0.125},{"s":"K","l":5,"t":17,"y":0.13},{"s":"K","l":5,"t":20,"y":0.15},
{"s":"B","l":1,"t":0,"y":0.04},{"s":"B","l":1,"t":5,"y":0.035},{"s":"B","l":1,"t":10,"y":0.03},{"s":"B","l":1,"t":12,"y":0.02},{"s":"B","l":1,"t":13.5,"y":0.01},{"s":"B","l":1,"t":14.5,"y":0.02},{"s":"B","l":1,"t":16,"y":0.08},{"s":"B","l":1,"t":18,"y":0.13},{"s":"B","l":1,"t":20,"y":0.17},
{"s":"B","l":2,"t":0,"y":0.03},{"s":"B","l":2,"t":10,"y":0.025},{"s":"B","l":2,"t":12,"y":0.02},{"s":"B","l":2,"t":13,"y":0},{"s":"B","l":2,"t":14,"y":0},{"s":"B","l":2,"t":15.5,"y":0.04},{"s":"B","l":2,"t":17,"y":0.1},{"s":"B","l":2,"t":18.5,"y":0.14},{"s":"B","l":2,"t":20,"y":0.16},
{"s":"B","l":3,"t":0,"y":0.02},{"s":"B","l":3,"t":10,"y":0.02},{"s":"B","l":3,"t":12.5,"y":0.005},{"s":"B","l":3,"t":13.5,"y":0},{"s":"B","l":3,"t":15,"y":0.03},{"s":"B","l":3,"t":17,"y":0.09},{"s":"B","l":3,"t":20,"y":0.165}],
"B5":[
{"s":"R","l":1,"t":0,"y":0.03},{"s":"R","l":1,"t":5,"y":0.025},{"s":"R","l":1,"t":9.5,"y":0.02},{"s":"R","l":1,"t":10.3,"y":0.04},{"s":"R","l":1,"t":11,"y":0.1},{"s":"R","l":1,"t":11.8,"y":0.18},{"s":"R","l":1,"t":12.5,"y":0.22},{"s":"R","l":1,"t":14,"y":0.24},{"s":"R","l":1,"t":17,"y":0.255},{"s":"R","l":1,"t":20,"y":0.27},
{"s":"R","l":2,"t":0,"y":0.015},{"s":"R","l":2,"t":10,"y":0.01},{"s":"R","l":2,"t":11,"y":0.06},{"s":"R","l":2,"t":12,"y":0.15},{"s":"R","l":2,"t":12.8,"y":0.21},{"s":"R","l":2,"t":14,"y":0.235},{"s":"R","l":2,"t":20,"y":0.265},
{"s":"R","l":3,"t":0,"y":0.005},{"s":"R","l":3,"t":10,"y":0.005},{"s":"R","l":3,"t":11.2,"y":0.06},{"s":"R","l":3,"t":12.2,"y":0.17},{"s":"R","l":3,"t":13,"y":0.22},{"s":"R","l":3,"t":16,"y":0.245},{"s":"R","l":3,"t":20,"y":0.27},
{"s":"K","l":1,"t":0,"y":0.045},{"s":"K","l":1,"t":5,"y":0.04},{"s":"K","l":1,"t":10,"y":0.03},{"s":"K","l":1,"t":10.8,"y":0.06},{"s":"K","l":1,"t":11.6,"y":0.15},{"s":"K","l":1,"t":12.4,"y":0.21},{"s":"K","l":1,"t":13.5,"y":0.235},{"s":"K","l":1,"t":20,"y":0.26},
{"s":"K","l":2,"t":0,"y":0.03},{"s":"K","l":2,"t":10,"y":0.02},{"s":"K","l":2,"t":11,"y":0.07},{"s":"K","l":2,"t":11.8,"y":0.16},{"s":"K","l":2,"t":12.6,"y":0.21},{"s":"K","l":2,"t":14,"y":0.225},{"s":"K","l":2,"t":20,"y":0.245},
{"s":"K","l":3,"t":0,"y":0.02},{"s":"K","l":3,"t":10.5,"y":0.01},{"s":"K","l":3,"t":11.5,"y":0.05},{"s":"K","l":3,"t":13,"y":0.13},{"s":"K","l":3,"t":14,"y":0.17},{"s":"K","l":3,"t":16,"y":0.19},{"s":"K","l":3,"t":20,"y":0.23},
{"s":"K","l":4,"t":0,"y":0.01},{"s":"K","l":4,"t":11.5,"y":0.01},{"s":"K","l":4,"t":13,"y":0.03},{"s":"K","l":4,"t":14.5,"y":0.09},{"s":"K","l":4,"t":16,"y":0.13},{"s":"K","l":4,"t":18,"y":0.17},{"s":"K","l":4,"t":20,"y":0.21},
{"s":"B","l":1,"t":0,"y":0.055},{"s":"B","l":1,"t":5,"y":0.05},{"s":"B","l":1,"t":10,"y":0.04},{"s":"B","l":1,"t":12,"y":0.03},{"s":"B","l":1,"t":13.5,"y":0.02},{"s":"B","l":1,"t":14.5,"y":0.03},{"s":"B","l":1,"t":16,"y":0.08},{"s":"B","l":1,"t":18,"y":0.14},{"s":"B","l":1,"t":20,"y":0.18},
{"s":"B","l":2,"t":0,"y":0.04},{"s":"B","l":2,"t":10,"y":0.035},{"s":"B","l":2,"t":12.5,"y":0.02},{"s":"B","l":2,"t":14,"y":0},{"s":"B","l":2,"t":15.5,"y":0.04},{"s":"B","l":2,"t":17.5,"y":0.11},{"s":"B","l":2,"t":20,"y":0.165},
{"s":"B","l":3,"t":0,"y":0.025},{"s":"B","l":3,"t":10,"y":0.02},{"s":"B","l":3,"t":13,"y":0},{"s":"B","l":3,"t":15,"y":0.02},{"s":"B","l":3,"t":17,"y":0.09},{"s":"B","l":3,"t":20,"y":0.16}],
"B6":[
{"s":"R","l":1,"t":0,"y":0.035},{"s":"R","l":1,"t":5,"y":0.03},{"s":"R","l":1,"t":9.5,"y":0.025},{"s":"R","l":1,"t":10.2,"y":0.05},{"s":"R","l":1,"t":11,"y":0.12},{"s":"R","l":1,"t":11.8,"y":0.2},{"s":"R","l":1,"t":12.6,"y":0.235},{"s":"R","l":1,"t":15,"y":0.25},{"s":"R","l":1,"t":20,"y":0.275},
{"s":"R","l":2,"t":0,"y":0.02},{"s":"R","l":2,"t":10,"y":0.015},{"s":"R","l":2,"t":10.8,"y":0.06},{"s":"R","l":2,"t":11.6,"y":0.15},{"s":"R","l":2,"t":12.4,"y":0.22},{"s":"R","l":2,"t":13.5,"y":0.24},{"s":"R","l":2,"t":20,"y":0.27},
{"s":"R","l":3,"t":0,"y":0.005},{"s":"R","l":3,"t":10,"y":0.005},{"s":"R","l":3,"t":11,"y":0.07},{"s":"R","l":3,"t":12,"y":0.17},{"s":"R","l":3,"t":12.8,"y":0.23},{"s":"R","l":3,"t":16,"y":0.25},{"s":"R","l":3,"t":20,"y":0.265},
{"s":"K","l":1,"t":0,"y":0.065},{"s":"K","l":1,"t":5,"y":0.055},{"s":"K","l":1,"t":10,"y":0.05},{"s":"K","l":1,"t":10.8,"y":0.1},{"s":"K","l":1,"t":11.5,"y":0.19},{"s":"K","l":1,"t":12.3,"y":0.25},{"s":"K","l":1,"t":14,"y":0.27},{"s":"K","l":1,"t":20,"y":0.295},
{"s":"K","l":2,"t":0,"y":0.05},{"s":"K","l":2,"t":10,"y":0.04},{"s":"K","l":2,"t":11,"y":0.09},{"s":"K","l":2,"t":11.8,"y":0.18},{"s":"K","l":2,"t":12.6,"y":0.24},{"s":"K","l":2,"t":14,"y":0.26},{"s":"K","l":2,"t":20,"y":0.285},
{"s":"K","l":3,"t":0,"y":0.03},{"s":"K","l":3,"t":10,"y":0.02},{"s":"K","l":3,"t":11,"y":0.06},{"s":"K","l":3,"t":12,"y":0.16},{"s":"K","l":3,"t":12.8,"y":0.22},{"s":"K","l":3,"t":14,"y":0.235},{"s":"K","l":3,"t":20,"y":0.25},
{"s":"K","l":4,"t":0,"y":0.01},{"s":"K","l":4,"t":11,"y":0.005},{"s":"K","l":4,"t":12.5,"y":0},{"s":"K","l":4,"t":13.5,"y":0.05},{"s":"K","l":4,"t":14.5,"y":0.1},{"s":"K","l":4,"t":16,"y":0.13},{"s":"K","l":4,"t":18,"y":0.16},{"s":"K","l":4,"t":20,"y":0.19},
{"s":"K","l":5,"t":0,"y":0},{"s":"K","l":5,"t":12.5,"y":0},{"s":"K","l":5,"t":14,"y":0.02},{"s":"K","l":5,"t":15,"y":0.06},{"s":"K","l":5,"t":17,"y":0.11},{"s":"K","l":5,"t":20,"y":0.16},
{"s":"B","l":1,"t":0,"y":0.04},{"s":"B","l":1,"t":10,"y":0.03},{"s":"B","l":1,"t":12.5,"y":0.02},{"s":"B","l":1,"t":14,"y":0.02},{"s":"B","l":1,"t":15.5,"y":0.04},{"s":"B","l":1,"t":17.5,"y":0.11},{"s":"B","l":1,"t":20,"y":0.17},
{"s":"B","l":2,"t":0,"y":0.03},{"s":"B","l":2,"t":10,"y":0.025},{"s":"B","l":2,"t":13,"y":0.01},{"s":"B","l":2,"t":14.5,"y":0},{"s":"B","l":2,"t":16,"y":0.05},{"s":"B","l":2,"t":18,"y":0.12},{"s":"B","l":2,"t":20,"y":0.165},
{"s":"B","l":3,"t":0,"y":0.015},{"s":"B","l":3,"t":10,"y":0.01},{"s":"B","l":3,"t":13.5,"y":0},{"s":"B","l":3,"t":15,"y":0.02},{"s":"B","l":3,"t":17,"y":0.08},{"s":"B","l":3,"t":20,"y":0.155}]
},
"columns":5,"bounds":"flush","align":"each","spacing":{"row":0,"column":20},
"concat":[
{"width":110,"height":63,"data":{"name":"pA1"},
 "title":{"text":"A","anchor":"start","frame":"group","dx":-13,"offset":-6,"fontSize":16,"fontWeight":"bold","color":"#111"},
 "layer":[
  {"data":{"values":[{"y":0},{"y":1}]},"mark":{"type":"point","opacity":0},"encoding":{
   "x":{"field":"y","type":"quantitative","scale":{"domain":[0,1]},"axis":{"orient":"top","title":"MOI = 1","titleX":55,"titleY":-15,"titleAlign":"center","titleBaseline":"alphabetic","titleFontSize":14,"titleFontWeight":"normal","titleColor":"#222","domain":false,"ticks":false,"labels":false,"grid":false}},
   "y":{"field":"y","type":"quantitative","scale":{"domain":[0,1],"range":[253,0]},"axis":{"title":"Viral tagged","offset":-12,"domainColor":"#333333","domainWidth":1.2,"ticks":false,"labels":false,"grid":false,"titleFontSize":14,"titleFontWeight":"normal","titleColor":"#222","titlePadding":8}}}},
  {"mark":{"type":"arc","outerRadius":34,"stroke":"#ffffff","strokeWidth":1.2},"encoding":{"theta":{"field":"v","type":"quantitative","stack":true},"order":{"field":"o","type":"quantitative"},"color":{"field":"s","type":"nominal","scale":{"domain":["L","N","K","B","R"],"range":["#E0962F","#3A3A3A","#000000","#6AB4F0","#E00000"]}}}},
  {"mark":{"type":"text","radius":15,"fontSize":11,"lineBreak":"\n"},"encoding":{"theta":{"field":"v","type":"quantitative","stack":true},"order":{"field":"o","type":"quantitative"},"detail":{"field":"s"},"text":{"field":"lab","type":"nominal"},"color":{"condition":{"test":"datum.s=='N'","value":"#e8e8e8"},"value":"#333333"}}}]},
{"width":181,"height":63,"data":{"name":"A1"},
 "title":{"text":"No. of cells sorted per well (n) = 1","anchor":"start","frame":"group","offset":0,"fontSize":11.5,"fontWeight":"normal","color":"#222"},
 "encoding":{
  "x":{"field":"t","type":"quantitative","scale":{"domain":[0,20]},"axis":{"values":[20],"domain":false,"ticks":false,"grid":false,"labelAlign":"right","labelPadding":2,"labelFontSize":11,"labelColor":"#222","title":"Time (hrs)","titleFontSize":11.5,"titleFontWeight":"normal","titleColor":"#222","titleX":84,"titleY":5,"titleBaseline":"top"}},
  "y":{"field":"y","type":"quantitative","scale":{"domain":[0,0.4]},"axis":{"values":[0,0.1,0.2,0.3,0.4],"labelExpr":"round(datum.value*10)%2==0?format(datum.value,'.1f'):''","domain":false,"ticks":false,"gridColor":"#c4c4c4","gridWidth":1.2,"labelFontSize":10,"labelColor":"#333","labelPadding":3,"title":"OD₅₉₀","titleFontSize":12,"titleFontWeight":"normal","titleColor":"#222","titlePadding":4}},
  "color":{"field":"s","type":"nominal","scale":{"domain":["L","N","K","B","R"],"range":["#E0962F","#3A3A3A","#000000","#6AB4F0","#E00000"]},
   "legend":{"orient":"none","legendX":-13,"legendY":547,"direction":"horizontal","columns":5,"title":null,"strokeColor":"#555555","padding":4,"labelFontSize":13.5,"labelColor":"#111111","symbolSize":196,"labelOffset":15,"columnPadding":8,"labelLimit":0,
    "labelExpr":"datum.value=='L'?'% wells w/ lysis':datum.value=='N'?'% wells w/o lysis':datum.value=='K'?'VT or NT':datum.value=='B'?'Culture w/ phage':'Culture w/o phage'",
    "encode":{"symbols":{"update":{"shape":{"signal":"datum.value=='L'||datum.value=='N'?'M-1,0.8L2.6,0.8L2.6,-0.8Z':'M-1,0L2.6,0'"},"fill":{"signal":"datum.value=='L'?'#E0962F':datum.value=='N'?'#3A3A3A':'transparent'"},"stroke":{"signal":"datum.value=='K'?'#000000':datum.value=='B'?'#6AB4F0':datum.value=='R'?'#E00000':'transparent'"},"strokeWidth":{"value":2.5},"opacity":{"value":1}}}}}},
  "detail":{"field":"l","type":"nominal"}},
 "layer":[
  {"transform":[{"filter":"datum.s=='K'"}],"mark":{"type":"line","strokeWidth":1.4,"interpolate":"monotone"}},
  {"transform":[{"filter":"datum.s=='B'"}],"mark":{"type":"line","strokeWidth":1.5,"interpolate":"monotone"}},
  {"transform":[{"filter":"datum.s=='R'"}],"mark":{"type":"line","strokeWidth":2.2,"interpolate":"monotone"}}]},
{"width":4,"height":63,"data":{"values":[]},"mark":"point"},
{"width":110,"height":63,"data":{"name":"pB1"},
 "title":{"text":"B","anchor":"start","frame":"group","dx":-16,"offset":-6,"fontSize":16,"fontWeight":"bold","color":"#111"},
 "layer":[
  {"data":{"values":[{"y":0},{"y":1}]},"mark":{"type":"point","opacity":0},"encoding":{
   "x":{"field":"y","type":"quantitative","scale":{"domain":[0,1]},"axis":{"orient":"top","title":"MOI = 4","titleX":55,"titleY":-15,"titleAlign":"center","titleBaseline":"alphabetic","titleFontSize":14,"titleFontWeight":"normal","titleColor":"#222","domain":false,"ticks":false,"labels":false,"grid":false}},
   "y":{"field":"y","type":"quantitative","scale":{"domain":[0,1],"range":[253,0]},"axis":{"title":"Viral tagged","offset":-12,"domainColor":"#999999","domainWidth":1.2,"ticks":false,"labels":false,"grid":false,"titleFontSize":14,"titleFontWeight":"normal","titleColor":"#222","titlePadding":5}}}},
  {"mark":{"type":"arc","outerRadius":34,"stroke":"#ffffff","strokeWidth":1.2},"encoding":{"theta":{"field":"v","type":"quantitative","stack":true},"order":{"field":"o","type":"quantitative"},"color":{"field":"s","type":"nominal","scale":{"domain":["L","N","K","B","R"],"range":["#E0962F","#3A3A3A","#000000","#6AB4F0","#E00000"]}}}},
  {"mark":{"type":"text","radius":15,"fontSize":11},"encoding":{"theta":{"field":"v","type":"quantitative","stack":true},"order":{"field":"o","type":"quantitative"},"detail":{"field":"s"},"text":{"field":"lab","type":"nominal"},"color":{"value":"#333333"}}}]},
{"width":181,"height":63,"data":{"name":"B1"},
 "title":{"text":"n = 1","anchor":"start","frame":"group","offset":0,"fontSize":11.5,"fontWeight":"normal","color":"#222"},
 "encoding":{
  "x":{"field":"t","type":"quantitative","scale":{"domain":[0,20]},"axis":{"values":[20],"domain":false,"ticks":false,"grid":false,"labelAlign":"right","labelPadding":2,"labelFontSize":11,"labelColor":"#222","title":"Time (hrs)","titleFontSize":11.5,"titleFontWeight":"normal","titleColor":"#222","titleX":84,"titleY":5,"titleBaseline":"top"}},
  "y":{"field":"y","type":"quantitative","scale":{"domain":[0,0.4]},"axis":{"values":[0,0.1,0.2,0.3,0.4],"labelExpr":"round(datum.value*10)%2==0?format(datum.value,'.1f'):''","domain":false,"ticks":false,"gridColor":"#c4c4c4","gridWidth":1.2,"labelFontSize":10,"labelColor":"#333","labelPadding":3,"title":"OD₅₉₀","titleFontSize":12,"titleFontWeight":"normal","titleColor":"#222","titlePadding":4}},
  "color":{"field":"s","type":"nominal","scale":{"domain":["L","N","K","B","R"],"range":["#E0962F","#3A3A3A","#000000","#6AB4F0","#E00000"]}},
  "detail":{"field":"l","type":"nominal"}},
 "layer":[
  {"transform":[{"filter":"datum.s=='K'"}],"mark":{"type":"line","strokeWidth":1.4,"interpolate":"monotone"}},
  {"transform":[{"filter":"datum.s=='B'"}],"mark":{"type":"line","strokeWidth":1.5,"interpolate":"monotone"}},
  {"transform":[{"filter":"datum.s=='R'"}],"mark":{"type":"line","strokeWidth":2.2,"interpolate":"monotone"}}]},
{"width":1,"height":33,"data":{"values":[]},"mark":"point"},{"width":1,"height":33,"data":{"values":[]},"mark":"point"},{"width":1,"height":33,"data":{"values":[]},"mark":"point"},{"width":1,"height":33,"data":{"values":[]},"mark":"point"},{"width":1,"height":33,"data":{"values":[]},"mark":"point"},
{"width":110,"height":63,"data":{"name":"pA2"},
 "layer":[
  {"mark":{"type":"arc","outerRadius":34,"stroke":"#ffffff","strokeWidth":1.2},"encoding":{"theta":{"field":"v","type":"quantitative","stack":true},"order":{"field":"o","type":"quantitative"},"color":{"field":"s","type":"nominal","scale":{"domain":["L","N","K","B","R"],"range":["#E0962F","#3A3A3A","#000000","#6AB4F0","#E00000"]}}}},
  {"mark":{"type":"text","radius":15,"fontSize":11},"encoding":{"theta":{"field":"v","type":"quantitative","stack":true},"order":{"field":"o","type":"quantitative"},"detail":{"field":"s"},"text":{"field":"lab","type":"nominal","condition":{"test":"datum.v<20","value":""}},"color":{"condition":{"test":"datum.s=='N'","value":"#e8e8e8"},"value":"#333333"}}},
  {"mark":{"type":"text","radius":42,"fontSize":11},"encoding":{"theta":{"field":"v","type":"quantitative","stack":true},"order":{"field":"o","type":"quantitative"},"detail":{"field":"s"},"text":{"field":"lab","type":"nominal","condition":{"test":"datum.v>=20||datum.v==0","value":""}},"color":{"value":"#333333"}}}]},
{"width":181,"height":63,"data":{"name":"A2"},
 "title":{"text":"n = 3","anchor":"start","frame":"group","offset":0,"fontSize":11.5,"fontWeight":"normal","color":"#222"},
 "encoding":{
  "x":{"field":"t","type":"quantitative","scale":{"domain":[0,20]},"axis":null},
  "y":{"field":"y","type":"quantitative","scale":{"domain":[0,0.4]},"axis":{"values":[0,0.1,0.2,0.3,0.4],"labelExpr":"round(datum.value*10)%2==0?format(datum.value,'.1f'):''","domain":false,"ticks":false,"gridColor":"#c4c4c4","gridWidth":1.2,"labelFontSize":10,"labelColor":"#333","labelPadding":3,"title":null}},
  "color":{"field":"s","type":"nominal","scale":{"domain":["L","N","K","B","R"],"range":["#E0962F","#3A3A3A","#000000","#6AB4F0","#E00000"]}},
  "detail":{"field":"l","type":"nominal"}},
 "layer":[
  {"transform":[{"filter":"datum.s=='K'"}],"mark":{"type":"line","strokeWidth":1.4,"interpolate":"monotone"}},
  {"transform":[{"filter":"datum.s=='B'"}],"mark":{"type":"line","strokeWidth":1.5,"interpolate":"monotone"}},
  {"transform":[{"filter":"datum.s=='R'"}],"mark":{"type":"line","strokeWidth":2.2,"interpolate":"monotone"}}]},
{"width":4,"height":63,"data":{"values":[]},"mark":"point"},
{"width":110,"height":63,"data":{"name":"pB2"},
 "layer":[
  {"mark":{"type":"arc","outerRadius":34,"stroke":"#ffffff","strokeWidth":1.2},"encoding":{"theta":{"field":"v","type":"quantitative","stack":true},"order":{"field":"o","type":"quantitative"},"color":{"field":"s","type":"nominal","scale":{"domain":["L","N","K","B","R"],"range":["#E0962F","#3A3A3A","#000000","#6AB4F0","#E00000"]}}}},
  {"mark":{"type":"text","radius":15,"fontSize":11},"encoding":{"theta":{"field":"v","type":"quantitative","stack":true},"order":{"field":"o","type":"quantitative"},"detail":{"field":"s"},"text":{"field":"lab","type":"nominal"},"color":{"value":"#333333"}}}]},
{"width":181,"height":63,"data":{"name":"B2"},
 "title":{"text":"n = 3","anchor":"start","frame":"group","offset":0,"fontSize":11.5,"fontWeight":"normal","color":"#222"},
 "encoding":{
  "x":{"field":"t","type":"quantitative","scale":{"domain":[0,20]},"axis":null},
  "y":{"field":"y","type":"quantitative","scale":{"domain":[0,0.4]},"axis":{"values":[0,0.1,0.2,0.3,0.4],"labelExpr":"round(datum.value*10)%2==0?format(datum.value,'.1f'):''","domain":false,"ticks":false,"gridColor":"#c4c4c4","gridWidth":1.2,"labelFontSize":10,"labelColor":"#333","labelPadding":3,"title":null}},
  "color":{"field":"s","type":"nominal","scale":{"domain":["L","N","K","B","R"],"range":["#E0962F","#3A3A3A","#000000","#6AB4F0","#E00000"]}},
  "detail":{"field":"l","type":"nominal"}},
 "layer":[
  {"transform":[{"filter":"datum.s=='K'"}],"mark":{"type":"line","strokeWidth":1.4,"interpolate":"monotone"}},
  {"transform":[{"filter":"datum.s=='B'"}],"mark":{"type":"line","strokeWidth":1.5,"interpolate":"monotone"}},
  {"transform":[{"filter":"datum.s=='R'"}],"mark":{"type":"line","strokeWidth":2.2,"interpolate":"monotone"}}]},
{"width":1,"height":26,"data":{"values":[]},"mark":"point"},{"width":1,"height":26,"data":{"values":[]},"mark":"point"},{"width":1,"height":26,"data":{"values":[]},"mark":"point"},{"width":1,"height":26,"data":{"values":[]},"mark":"point"},{"width":1,"height":26,"data":{"values":[]},"mark":"point"},
{"width":110,"height":63,"data":{"name":"pA3"},
 "layer":[
  {"mark":{"type":"arc","outerRadius":34,"stroke":"#ffffff","strokeWidth":1.2},"encoding":{"theta":{"field":"v","type":"quantitative","stack":true},"order":{"field":"o","type":"quantitative"},"color":{"field":"s","type":"nominal","scale":{"domain":["L","N","K","B","R"],"range":["#E0962F","#3A3A3A","#000000","#6AB4F0","#E00000"]}}}},
  {"mark":{"type":"text","radius":15,"fontSize":11},"encoding":{"theta":{"field":"v","type":"quantitative","stack":true},"order":{"field":"o","type":"quantitative"},"detail":{"field":"s"},"text":{"field":"lab","type":"nominal"},"color":{"value":"#333333"}}}]},
{"width":181,"height":63,"data":{"name":"A3"},
 "title":{"text":"n = 9","anchor":"start","frame":"group","offset":0,"fontSize":11.5,"fontWeight":"normal","color":"#222"},
 "encoding":{
  "x":{"field":"t","type":"quantitative","scale":{"domain":[0,20]},"axis":null},
  "y":{"field":"y","type":"quantitative","scale":{"domain":[0,0.4]},"axis":{"values":[0,0.1,0.2,0.3,0.4],"labelExpr":"round(datum.value*10)%2==0?format(datum.value,'.1f'):''","domain":false,"ticks":false,"gridColor":"#c4c4c4","gridWidth":1.2,"labelFontSize":10,"labelColor":"#333","labelPadding":3,"title":null}},
  "color":{"field":"s","type":"nominal","scale":{"domain":["L","N","K","B","R"],"range":["#E0962F","#3A3A3A","#000000","#6AB4F0","#E00000"]}},
  "detail":{"field":"l","type":"nominal"}},
 "layer":[
  {"transform":[{"filter":"datum.s=='K'"}],"mark":{"type":"line","strokeWidth":1.4,"interpolate":"monotone"}},
  {"transform":[{"filter":"datum.s=='B'"}],"mark":{"type":"line","strokeWidth":1.5,"interpolate":"monotone"}},
  {"transform":[{"filter":"datum.s=='R'"}],"mark":{"type":"line","strokeWidth":2.2,"interpolate":"monotone"}}]},
{"width":4,"height":63,"data":{"values":[]},"mark":"point"},
{"width":110,"height":63,"data":{"name":"pB3"},
 "layer":[
  {"mark":{"type":"arc","outerRadius":34,"stroke":"#ffffff","strokeWidth":1.2},"encoding":{"theta":{"field":"v","type":"quantitative","stack":true},"order":{"field":"o","type":"quantitative"},"color":{"field":"s","type":"nominal","scale":{"domain":["L","N","K","B","R"],"range":["#E0962F","#3A3A3A","#000000","#6AB4F0","#E00000"]}}}},
  {"mark":{"type":"text","radius":15,"fontSize":11},"encoding":{"theta":{"field":"v","type":"quantitative","stack":true},"order":{"field":"o","type":"quantitative"},"detail":{"field":"s"},"text":{"field":"lab","type":"nominal"},"color":{"value":"#333333"}}}]},
{"width":181,"height":63,"data":{"name":"B3"},
 "title":{"text":"n = 9","anchor":"start","frame":"group","offset":0,"fontSize":11.5,"fontWeight":"normal","color":"#222"},
 "encoding":{
  "x":{"field":"t","type":"quantitative","scale":{"domain":[0,20]},"axis":null},
  "y":{"field":"y","type":"quantitative","scale":{"domain":[0,0.4]},"axis":{"values":[0,0.1,0.2,0.3,0.4],"labelExpr":"round(datum.value*10)%2==0?format(datum.value,'.1f'):''","domain":false,"ticks":false,"gridColor":"#c4c4c4","gridWidth":1.2,"labelFontSize":10,"labelColor":"#333","labelPadding":3,"title":null}},
  "color":{"field":"s","type":"nominal","scale":{"domain":["L","N","K","B","R"],"range":["#E0962F","#3A3A3A","#000000","#6AB4F0","#E00000"]}},
  "detail":{"field":"l","type":"nominal"}},
 "layer":[
  {"transform":[{"filter":"datum.s=='K'"}],"mark":{"type":"line","strokeWidth":1.4,"interpolate":"monotone"}},
  {"transform":[{"filter":"datum.s=='B'"}],"mark":{"type":"line","strokeWidth":1.5,"interpolate":"monotone"}},
  {"transform":[{"filter":"datum.s=='R'"}],"mark":{"type":"line","strokeWidth":2.2,"interpolate":"monotone"}}]},
{"width":1,"height":38,"data":{"values":[]},"mark":"point"},{"width":1,"height":38,"data":{"values":[]},"mark":"point"},{"width":1,"height":38,"data":{"values":[]},"mark":"point"},{"width":1,"height":38,"data":{"values":[]},"mark":"point"},{"width":1,"height":38,"data":{"values":[]},"mark":"point"},
{"width":110,"height":63,"data":{"name":"pA4"},
 "layer":[
  {"data":{"values":[{"y":0},{"y":1}]},"mark":{"type":"point","opacity":0},"encoding":{"y":{"field":"y","type":"quantitative","scale":{"domain":[0,1],"range":[250,-4]},"axis":{"title":"Non-tagged","offset":-12,"domainColor":"#333333","domainWidth":1.2,"ticks":false,"labels":false,"grid":false,"titleFontSize":14,"titleFontWeight":"normal","titleColor":"#222","titlePadding":8}}}},
  {"mark":{"type":"arc","outerRadius":34,"stroke":"#ffffff","strokeWidth":1.2},"encoding":{"theta":{"field":"v","type":"quantitative","stack":true},"order":{"field":"o","type":"quantitative"},"color":{"field":"s","type":"nominal","scale":{"domain":["L","N","K","B","R"],"range":["#E0962F","#3A3A3A","#000000","#6AB4F0","#E00000"]}}}},
  {"mark":{"type":"text","radius":15,"fontSize":11},"encoding":{"theta":{"field":"v","type":"quantitative","stack":true},"order":{"field":"o","type":"quantitative"},"detail":{"field":"s"},"text":{"field":"lab","type":"nominal","condition":{"test":"datum.v<20","value":""}},"color":{"condition":{"test":"datum.s=='N'","value":"#e8e8e8"},"value":"#333333"}}},
  {"mark":{"type":"text","radius":42,"fontSize":11},"encoding":{"theta":{"field":"v","type":"quantitative","stack":true},"order":{"field":"o","type":"quantitative"},"detail":{"field":"s"},"text":{"field":"lab","type":"nominal","condition":{"test":"datum.v>=20||datum.v==0","value":""}},"color":{"value":"#333333"}}}]},
{"width":181,"height":63,"data":{"name":"A4"},
 "title":{"text":"n = 1","anchor":"start","frame":"group","offset":0,"fontSize":11.5,"fontWeight":"normal","color":"#222"},
 "encoding":{
  "x":{"field":"t","type":"quantitative","scale":{"domain":[0,20]},"axis":null},
  "y":{"field":"y","type":"quantitative","scale":{"domain":[0,0.4]},"axis":{"values":[0,0.1,0.2,0.3,0.4],"labelExpr":"round(datum.value*10)%2==0?format(datum.value,'.1f'):''","domain":false,"ticks":false,"gridColor":"#c4c4c4","gridWidth":1.2,"labelFontSize":10,"labelColor":"#333","labelPadding":3,"title":null}},
  "color":{"field":"s","type":"nominal","scale":{"domain":["L","N","K","B","R"],"range":["#E0962F","#3A3A3A","#000000","#6AB4F0","#E00000"]}},
  "detail":{"field":"l","type":"nominal"}},
 "layer":[
  {"transform":[{"filter":"datum.s=='K'"}],"mark":{"type":"line","strokeWidth":1.4,"interpolate":"monotone"}},
  {"transform":[{"filter":"datum.s=='B'"}],"mark":{"type":"line","strokeWidth":1.5,"interpolate":"monotone"}},
  {"transform":[{"filter":"datum.s=='R'"}],"mark":{"type":"line","strokeWidth":2.2,"interpolate":"monotone"}}]},
{"width":4,"height":63,"data":{"values":[]},"mark":"point"},
{"width":110,"height":63,"data":{"name":"pB4"},
 "layer":[
  {"data":{"values":[{"y":0},{"y":1}]},"mark":{"type":"point","opacity":0},"encoding":{"y":{"field":"y","type":"quantitative","scale":{"domain":[0,1],"range":[240,-4]},"axis":{"title":"Non-tagged","offset":-12,"domainColor":"#999999","domainWidth":1.2,"ticks":false,"labels":false,"grid":false,"titleFontSize":14,"titleFontWeight":"normal","titleColor":"#222","titlePadding":5}}}},
  {"mark":{"type":"arc","outerRadius":34,"stroke":"#ffffff","strokeWidth":1.2},"encoding":{"theta":{"field":"v","type":"quantitative","stack":true},"order":{"field":"o","type":"quantitative"},"color":{"field":"s","type":"nominal","scale":{"domain":["L","N","K","B","R"],"range":["#E0962F","#3A3A3A","#000000","#6AB4F0","#E00000"]}}}},
  {"mark":{"type":"text","radius":15,"fontSize":11},"encoding":{"theta":{"field":"v","type":"quantitative","stack":true},"order":{"field":"o","type":"quantitative"},"detail":{"field":"s"},"text":{"field":"lab","type":"nominal","condition":{"test":"datum.v<20","value":""}},"color":{"condition":{"test":"datum.s=='N'","value":"#e8e8e8"},"value":"#333333"}}},
  {"mark":{"type":"text","radius":42,"fontSize":11},"encoding":{"theta":{"field":"v","type":"quantitative","stack":true},"order":{"field":"o","type":"quantitative"},"detail":{"field":"s"},"text":{"field":"lab","type":"nominal","condition":{"test":"datum.v>=20||datum.v==0","value":""}},"color":{"value":"#333333"}}}]},
{"width":181,"height":63,"data":{"name":"B4"},
 "title":{"text":"n = 1","anchor":"start","frame":"group","offset":0,"fontSize":11.5,"fontWeight":"normal","color":"#222"},
 "encoding":{
  "x":{"field":"t","type":"quantitative","scale":{"domain":[0,20]},"axis":null},
  "y":{"field":"y","type":"quantitative","scale":{"domain":[0,0.4]},"axis":{"values":[0,0.1,0.2,0.3,0.4],"labelExpr":"round(datum.value*10)%2==0?format(datum.value,'.1f'):''","domain":false,"ticks":false,"gridColor":"#c4c4c4","gridWidth":1.2,"labelFontSize":10,"labelColor":"#333","labelPadding":3,"title":null}},
  "color":{"field":"s","type":"nominal","scale":{"domain":["L","N","K","B","R"],"range":["#E0962F","#3A3A3A","#000000","#6AB4F0","#E00000"]}},
  "detail":{"field":"l","type":"nominal"}},
 "layer":[
  {"transform":[{"filter":"datum.s=='K'"}],"mark":{"type":"line","strokeWidth":1.4,"interpolate":"monotone"}},
  {"transform":[{"filter":"datum.s=='B'"}],"mark":{"type":"line","strokeWidth":1.5,"interpolate":"monotone"}},
  {"transform":[{"filter":"datum.s=='R'"}],"mark":{"type":"line","strokeWidth":2.2,"interpolate":"monotone"}}]},
{"width":1,"height":28,"data":{"values":[]},"mark":"point"},{"width":1,"height":28,"data":{"values":[]},"mark":"point"},{"width":1,"height":28,"data":{"values":[]},"mark":"point"},{"width":1,"height":28,"data":{"values":[]},"mark":"point"},{"width":1,"height":28,"data":{"values":[]},"mark":"point"},
{"width":110,"height":63,"data":{"name":"pA5"},
 "layer":[
  {"mark":{"type":"arc","outerRadius":34,"stroke":"#ffffff","strokeWidth":1.2},"encoding":{"theta":{"field":"v","type":"quantitative","stack":true},"order":{"field":"o","type":"quantitative"},"color":{"field":"s","type":"nominal","scale":{"domain":["L","N","K","B","R"],"range":["#E0962F","#3A3A3A","#000000","#6AB4F0","#E00000"]}}}},
  {"mark":{"type":"text","radius":15,"fontSize":11},"encoding":{"theta":{"field":"v","type":"quantitative","stack":true},"order":{"field":"o","type":"quantitative"},"detail":{"field":"s"},"text":{"field":"lab","type":"nominal","condition":{"test":"datum.v<20","value":""}},"color":{"condition":{"test":"datum.s=='N'","value":"#e8e8e8"},"value":"#333333"}}},
  {"mark":{"type":"text","radius":42,"fontSize":11},"encoding":{"theta":{"field":"v","type":"quantitative","stack":true},"order":{"field":"o","type":"quantitative"},"detail":{"field":"s"},"text":{"field":"lab","type":"nominal","condition":{"test":"datum.v>=20||datum.v==0","value":""}},"color":{"value":"#333333"}}}]},
{"width":181,"height":63,"data":{"name":"A5"},
 "title":{"text":"n = 3","anchor":"start","frame":"group","offset":0,"fontSize":11.5,"fontWeight":"normal","color":"#222"},
 "encoding":{
  "x":{"field":"t","type":"quantitative","scale":{"domain":[0,20]},"axis":null},
  "y":{"field":"y","type":"quantitative","scale":{"domain":[0,0.4]},"axis":{"values":[0,0.1,0.2,0.3,0.4],"labelExpr":"round(datum.value*10)%2==0?format(datum.value,'.1f'):''","domain":false,"ticks":false,"gridColor":"#c4c4c4","gridWidth":1.2,"labelFontSize":10,"labelColor":"#333","labelPadding":3,"title":null}},
  "color":{"field":"s","type":"nominal","scale":{"domain":["L","N","K","B","R"],"range":["#E0962F","#3A3A3A","#000000","#6AB4F0","#E00000"]}},
  "detail":{"field":"l","type":"nominal"}},
 "layer":[
  {"transform":[{"filter":"datum.s=='K'"}],"mark":{"type":"line","strokeWidth":1.4,"interpolate":"monotone"}},
  {"transform":[{"filter":"datum.s=='B'"}],"mark":{"type":"line","strokeWidth":1.5,"interpolate":"monotone"}},
  {"transform":[{"filter":"datum.s=='R'"}],"mark":{"type":"line","strokeWidth":2.2,"interpolate":"monotone"}}]},
{"width":4,"height":63,"data":{"values":[]},"mark":"point"},
{"width":110,"height":63,"data":{"name":"pB5"},
 "layer":[
  {"mark":{"type":"arc","outerRadius":34,"stroke":"#ffffff","strokeWidth":1.2},"encoding":{"theta":{"field":"v","type":"quantitative","stack":true},"order":{"field":"o","type":"quantitative"},"color":{"field":"s","type":"nominal","scale":{"domain":["L","N","K","B","R"],"range":["#E0962F","#3A3A3A","#000000","#6AB4F0","#E00000"]}}}},
  {"mark":{"type":"text","radius":15,"fontSize":11},"encoding":{"theta":{"field":"v","type":"quantitative","stack":true},"order":{"field":"o","type":"quantitative"},"detail":{"field":"s"},"text":{"field":"lab","type":"nominal","condition":{"test":"datum.v<20","value":""}},"color":{"condition":{"test":"datum.s=='N'","value":"#e8e8e8"},"value":"#333333"}}},
  {"mark":{"type":"text","radius":42,"fontSize":11},"encoding":{"theta":{"field":"v","type":"quantitative","stack":true},"order":{"field":"o","type":"quantitative"},"detail":{"field":"s"},"text":{"field":"lab","type":"nominal","condition":{"test":"datum.v>=20||datum.v==0","value":""}},"color":{"value":"#333333"}}}]},
{"width":181,"height":63,"data":{"name":"B5"},
 "title":{"text":"n = 3","anchor":"start","frame":"group","offset":0,"fontSize":11.5,"fontWeight":"normal","color":"#222"},
 "encoding":{
  "x":{"field":"t","type":"quantitative","scale":{"domain":[0,20]},"axis":null},
  "y":{"field":"y","type":"quantitative","scale":{"domain":[0,0.4]},"axis":{"values":[0,0.1,0.2,0.3,0.4],"labelExpr":"round(datum.value*10)%2==0?format(datum.value,'.1f'):''","domain":false,"ticks":false,"gridColor":"#c4c4c4","gridWidth":1.2,"labelFontSize":10,"labelColor":"#333","labelPadding":3,"title":null}},
  "color":{"field":"s","type":"nominal","scale":{"domain":["L","N","K","B","R"],"range":["#E0962F","#3A3A3A","#000000","#6AB4F0","#E00000"]}},
  "detail":{"field":"l","type":"nominal"}},
 "layer":[
  {"transform":[{"filter":"datum.s=='K'"}],"mark":{"type":"line","strokeWidth":1.4,"interpolate":"monotone"}},
  {"transform":[{"filter":"datum.s=='B'"}],"mark":{"type":"line","strokeWidth":1.5,"interpolate":"monotone"}},
  {"transform":[{"filter":"datum.s=='R'"}],"mark":{"type":"line","strokeWidth":2.2,"interpolate":"monotone"}}]},
{"width":1,"height":28,"data":{"values":[]},"mark":"point"},{"width":1,"height":28,"data":{"values":[]},"mark":"point"},{"width":1,"height":28,"data":{"values":[]},"mark":"point"},{"width":1,"height":28,"data":{"values":[]},"mark":"point"},{"width":1,"height":28,"data":{"values":[]},"mark":"point"},
{"width":110,"height":63,"data":{"name":"pA6"},
 "layer":[
  {"mark":{"type":"arc","outerRadius":34,"stroke":"#ffffff","strokeWidth":1.2},"encoding":{"theta":{"field":"v","type":"quantitative","stack":true},"order":{"field":"o","type":"quantitative"},"color":{"field":"s","type":"nominal","scale":{"domain":["L","N","K","B","R"],"range":["#E0962F","#3A3A3A","#000000","#6AB4F0","#E00000"]}}}},
  {"mark":{"type":"text","radius":15,"fontSize":11},"encoding":{"theta":{"field":"v","type":"quantitative","stack":true},"order":{"field":"o","type":"quantitative"},"detail":{"field":"s"},"text":{"field":"lab","type":"nominal","condition":{"test":"datum.v<20","value":""}},"color":{"condition":{"test":"datum.s=='N'","value":"#e8e8e8"},"value":"#333333"}}},
  {"mark":{"type":"text","radius":42,"fontSize":11},"encoding":{"theta":{"field":"v","type":"quantitative","stack":true},"order":{"field":"o","type":"quantitative"},"detail":{"field":"s"},"text":{"field":"lab","type":"nominal","condition":{"test":"datum.v>=20||datum.v==0","value":""}},"color":{"value":"#333333"}}}]},
{"width":181,"height":63,"data":{"name":"A6"},
 "title":{"text":"n = 9","anchor":"start","frame":"group","offset":0,"fontSize":11.5,"fontWeight":"normal","color":"#222"},
 "encoding":{
  "x":{"field":"t","type":"quantitative","scale":{"domain":[0,20]},"axis":null},
  "y":{"field":"y","type":"quantitative","scale":{"domain":[0,0.4]},"axis":{"values":[0,0.1,0.2,0.3,0.4],"labelExpr":"round(datum.value*10)%2==0?format(datum.value,'.1f'):''","domain":false,"ticks":false,"gridColor":"#c4c4c4","gridWidth":1.2,"labelFontSize":10,"labelColor":"#333","labelPadding":3,"title":null}},
  "color":{"field":"s","type":"nominal","scale":{"domain":["L","N","K","B","R"],"range":["#E0962F","#3A3A3A","#000000","#6AB4F0","#E00000"]}},
  "detail":{"field":"l","type":"nominal"}},
 "layer":[
  {"transform":[{"filter":"datum.s=='K'"}],"mark":{"type":"line","strokeWidth":1.4,"interpolate":"monotone"}},
  {"transform":[{"filter":"datum.s=='B'"}],"mark":{"type":"line","strokeWidth":1.5,"interpolate":"monotone"}},
  {"transform":[{"filter":"datum.s=='R'"}],"mark":{"type":"line","strokeWidth":2.2,"interpolate":"monotone"}}]},
{"width":4,"height":63,"data":{"values":[]},"mark":"point"},
{"width":110,"height":63,"data":{"name":"pB6"},
 "layer":[
  {"mark":{"type":"arc","outerRadius":34,"stroke":"#ffffff","strokeWidth":1.2},"encoding":{"theta":{"field":"v","type":"quantitative","stack":true},"order":{"field":"o","type":"quantitative"},"color":{"field":"s","type":"nominal","scale":{"domain":["L","N","K","B","R"],"range":["#E0962F","#3A3A3A","#000000","#6AB4F0","#E00000"]}}}},
  {"mark":{"type":"text","radius":15,"fontSize":11},"encoding":{"theta":{"field":"v","type":"quantitative","stack":true},"order":{"field":"o","type":"quantitative"},"detail":{"field":"s"},"text":{"field":"lab","type":"nominal","condition":{"test":"datum.v<20","value":""}},"color":{"condition":{"test":"datum.s=='N'","value":"#e8e8e8"},"value":"#333333"}}},
  {"mark":{"type":"text","radius":42,"fontSize":11},"encoding":{"theta":{"field":"v","type":"quantitative","stack":true},"order":{"field":"o","type":"quantitative"},"detail":{"field":"s"},"text":{"field":"lab","type":"nominal","condition":{"test":"datum.v>=20||datum.v==0","value":""}},"color":{"value":"#333333"}}}]},
{"width":181,"height":63,"data":{"name":"B6"},
 "title":{"text":"n = 9","anchor":"start","frame":"group","offset":0,"fontSize":11.5,"fontWeight":"normal","color":"#222"},
 "encoding":{
  "x":{"field":"t","type":"quantitative","scale":{"domain":[0,20]},"axis":null},
  "y":{"field":"y","type":"quantitative","scale":{"domain":[0,0.4]},"axis":{"values":[0,0.1,0.2,0.3,0.4],"labelExpr":"round(datum.value*10)%2==0?format(datum.value,'.1f'):''","domain":false,"ticks":false,"gridColor":"#c4c4c4","gridWidth":1.2,"labelFontSize":10,"labelColor":"#333","labelPadding":3,"title":null}},
  "color":{"field":"s","type":"nominal","scale":{"domain":["L","N","K","B","R"],"range":["#E0962F","#3A3A3A","#000000","#6AB4F0","#E00000"]}},
  "detail":{"field":"l","type":"nominal"}},
 "layer":[
  {"transform":[{"filter":"datum.s=='K'"}],"mark":{"type":"line","strokeWidth":1.4,"interpolate":"monotone"}},
  {"transform":[{"filter":"datum.s=='B'"}],"mark":{"type":"line","strokeWidth":1.5,"interpolate":"monotone"}},
  {"transform":[{"filter":"datum.s=='R'"}],"mark":{"type":"line","strokeWidth":2.2,"interpolate":"monotone"}}]}
]
}
